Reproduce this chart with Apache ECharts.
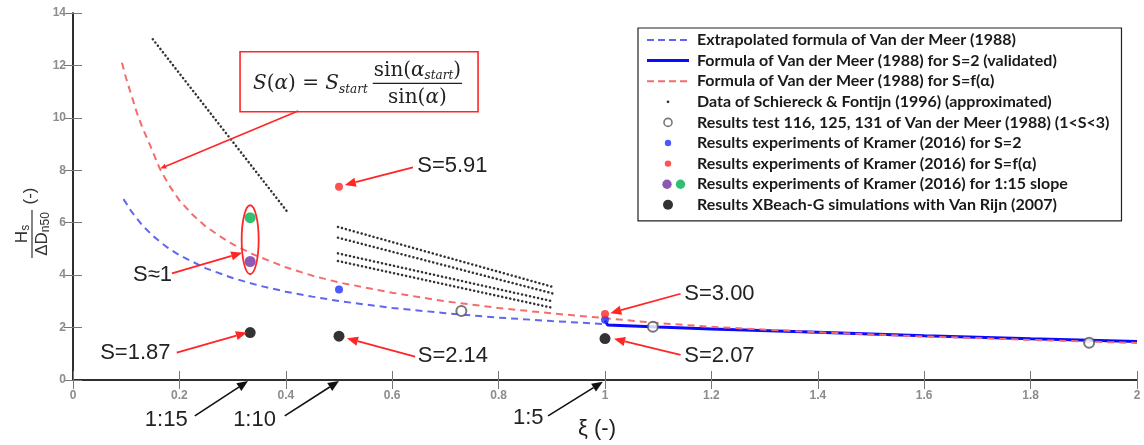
<!DOCTYPE html>
<html>
<head>
<meta charset="utf-8">
<script src="https://cdn.jsdelivr.net/npm/echarts@6.0.0/dist/echarts.min.js"></script>
<style>
  html, body { margin: 0; padding: 0; background: #fff; }
  #chart { width: 1144px; height: 445px; }
</style>
</head>
<body>
<div id="chart"></div>
<script>
// axis ticks
const xTicks = [0, 0.2, 0.4, 0.6, 0.8, 1, 1.2, 1.4, 1.6, 1.8, 2];
const yTicks = [0, 2, 4, 6, 8, 10, 12, 14];

const legendNames = [
  'Extrapolated formula of Van der Meer (1988)',
  'Formula of Van der Meer (1988) for S=2 (validated)',
  'Formula of Van der Meer (1988) for S=f(α)',
  'Data of Schiereck & Fontijn (1996) (approximated)',
  'Results test 116, 125, 131 of Van der Meer (1988) (1<S<3)',
  'Results experiments of Kramer (2016) for S=2',
  'Results experiments of Kramer (2016) for S=f(α)',
  'Results experiments of Kramer (2016) for 1:15 slope',
  'Results XBeach-G simulations with Van Rijn (2007)'
];

// [ξ, Hs/ΔDn50]
const vdmExtrapolated = [[0.095, 6.9], [0.11, 6.42], [0.13, 5.91], [0.15, 5.5], [0.175, 5.09], [0.2, 4.76],
  [0.25, 4.26], [0.3, 3.89], [0.35, 3.6], [0.4, 3.37], [0.45, 3.18], [0.5, 3.01], [0.6, 2.75], [0.7, 2.55],
  [0.8, 2.38], [0.9, 2.25], [1.0, 2.13]];
const vdmS2 = [[1.0, 2.27], [1.005, 2.1], [1.1, 2.02], [1.2, 1.95], [1.4, 1.82], [1.6, 1.69], [1.8, 1.57], [2.0, 1.47]];
const vdmSalpha = [[0.092, 12.1], [0.1, 11.5], [0.11, 10.85], [0.12, 10.2], [0.13, 9.65], [0.145, 8.95],
  [0.163, 8.07], [0.18, 7.45], [0.2, 6.85], [0.225, 6.3], [0.25, 5.85], [0.275, 5.5], [0.3, 5.18], [0.34, 4.78],
  [0.4, 4.3], [0.45, 3.98], [0.5, 3.72], [0.6, 3.33], [0.7, 3.0], [0.8, 2.75], [0.9, 2.54], [1.0, 2.36],
  [1.1, 2.17], [1.2, 2.03], [1.4, 1.82], [1.6, 1.66], [1.8, 1.53], [2.0, 1.41]];
// Schiereck & Fontijn: one steep line and four lines between ξ=0.5 and 0.9
const schiereck = [
  [[0.15, 13.0], [0.402, 6.44]],
  [[0.498, 5.84], [0.902, 3.55]],
  [[0.498, 5.43], [0.902, 3.3]],
  [[0.498, 4.83], [0.902, 3.0]],
  [[0.498, 4.54], [0.902, 2.75]]
];
const vdmTests = [[0.73, 2.63], [1.09, 2.03], [1.91, 1.42]];
const kramerS2 = [[0.5, 3.45], [1.0, 2.3]];
const kramerSalpha = [[0.5, 7.37], [1.0, 2.52]];
const kramer115Purple = [[0.333, 4.52]];
const kramer115Green = [[0.333, 6.19]];
const xbeach = [[0.333, 1.81], [0.5, 1.67], [1.0, 1.58]];

// annotations: label left-middle point, arrow tail, arrow tip (data coords)
const redNotes = [
  { text: 'S=5.91', at: [0.647, 8.15], from: [0.639, 8.11], to: [0.511, 7.44] },
  { text: 'S≈1', at: [0.113, 4.0], from: [0.186, 4.07], to: [0.318, 4.85] },
  { text: 'S=1.87', at: [0.051, 1.04], from: [0.195, 1.04], to: [0.327, 1.81] },
  { text: 'S=2.14', at: [0.648, 0.93], from: [0.643, 0.89], to: [0.515, 1.59] },
  { text: 'S=3.00', at: [1.149, 3.29], from: [1.142, 3.29], to: [1.010, 2.55] },
  { text: 'S=2.07', at: [1.149, 0.9], from: [1.142, 0.96], to: [1.017, 1.57] }
];
const slopeNotes = [
  { text: '1:15', at: [0.135, -1.52], from: [0.229, -1.37], to: [0.329, -0.04] },
  { text: '1:10', at: [0.301, -1.52], from: [0.398, -1.37], to: [0.5, -0.04] },
  { text: '1:5', at: [0.827, -1.44], from: [0.893, -1.37], to: [0.996, -0.07] }
];

const BLUE_D = '#5f66f0';
const BLUE = '#0a0aff';
const RED_D = '#f46c6c';
const RED = '#ff2626';

function svgIcon(inner) {
  return 'image://data:image/svg+xml;charset=utf-8,' + encodeURIComponent(
    '<svg xmlns="http://www.w3.org/2000/svg" width="45" height="16" viewBox="0 0 45 16">' + inner + '</svg>');
}
const legendIcons = [
  svgIcon('<line x1="0" y1="8" x2="42" y2="8" stroke="' + BLUE_D + '" stroke-width="2" stroke-dasharray="7,4"/>'),
  svgIcon('<line x1="0" y1="8" x2="42" y2="8" stroke="' + BLUE + '" stroke-width="3"/>'),
  svgIcon('<line x1="0" y1="8" x2="42" y2="8" stroke="' + RED_D + '" stroke-width="2" stroke-dasharray="7,4"/>'),
  svgIcon('<circle cx="21" cy="8" r="1.4" fill="#333"/>'),
  svgIcon('<circle cx="21" cy="8" r="4" fill="none" stroke="#555" stroke-width="1.6"/>'),
  svgIcon('<circle cx="21" cy="8" r="3.2" fill="#1f2fff"/>'),
  svgIcon('<circle cx="21" cy="8" r="3.2" fill="' + RED + '"/>'),
  svgIcon('<circle cx="20" cy="8" r="4.7" fill="#7030a0"/><circle cx="33.5" cy="8" r="4.7" fill="#00b050"/>'),
  svgIcon('<circle cx="21" cy="8" r="5" fill="#000"/>')
];

const chart = echarts.init(document.getElementById('chart'));

const dotted = { color: '#333', width: 2.5, type: [0.1, 4], cap: 'round' };
const series = [
  { name: legendNames[0], type: 'line', data: vdmExtrapolated, symbol: 'none',
    lineStyle: { color: BLUE_D, width: 2, type: [7, 5] }, z: 3 },
  { name: legendNames[1], type: 'line', data: vdmS2, symbol: 'none',
    lineStyle: { color: BLUE, width: 3 }, z: 4 },
  { name: legendNames[2], type: 'line', data: vdmSalpha, symbol: 'none',
    lineStyle: { color: RED_D, width: 2, type: [7, 5] }, z: 5 }
];
schiereck.forEach(seg => series.push({
  name: legendNames[3], type: 'line', data: seg, symbol: 'none', lineStyle: dotted, z: 3
}));
series.push(
  { name: legendNames[4], type: 'scatter', data: vdmTests, symbol: 'emptyCircle', symbolSize: 10,
    itemStyle: { color: '#555', borderWidth: 1.6 }, z: 6 },
  { name: legendNames[5], type: 'scatter', data: kramerS2, symbolSize: 8, itemStyle: { color: '#1f2fff' }, z: 6 },
  { name: legendNames[6], type: 'scatter', data: kramerSalpha, symbolSize: 8, itemStyle: { color: RED }, z: 6 },
  { name: legendNames[7], type: 'scatter', data: kramer115Purple, symbolSize: 11, itemStyle: { color: '#7030a0' }, z: 6 },
  { name: legendNames[7], type: 'scatter', data: kramer115Green, symbolSize: 11, itemStyle: { color: '#00b050' }, z: 6 },
  { name: legendNames[8], type: 'scatter', data: xbeach, symbolSize: 11, itemStyle: { color: '#000' }, z: 6 }
);

const tickLabel = { fontSize: 12, color: '#8c8c8c', fontWeight: 'bold', fontFamily: 'Liberation Sans' };
const axisLine = { show: true, lineStyle: { color: '#222', width: 1.5 } };
const axisTick = { show: true, inside: true, length: 9, lineStyle: { color: '#777', width: 1 } };
const xStep = xTicks[1] - xTicks[0];
const yStep = yTicks[1] - yTicks[0];

const option = {
  backgroundColor: '#fff',
  animation: false,
  grid: { left: 73, right: 7, top: 13, bottom: 54 },
  xAxis: [
    { type: 'value', min: xTicks[0], max: xTicks[xTicks.length - 1], interval: xStep,
      axisLine, axisTick, splitLine: { show: false },
      axisLabel: Object.assign({ margin: 10 }, tickLabel),
      name: 'ξ (-)', nameLocation: 'middle', nameGap: 38,
      nameTextStyle: { fontSize: 22, color: '#222', fontFamily: 'Liberation Sans', padding: [0, 16, 0, 0] } },
    { type: 'value', position: 'top', min: xTicks[0], max: xTicks[xTicks.length - 1], interval: xStep,
      axisLine, axisTick, axisLabel: { show: false }, splitLine: { show: false } }
  ],
  yAxis: [
    { type: 'value', min: yTicks[0], max: yTicks[yTicks.length - 1], interval: yStep,
      axisLine, axisTick, splitLine: { show: false },
      axisLabel: Object.assign({ margin: 7 }, tickLabel) },
    { type: 'value', position: 'right', min: yTicks[0], max: yTicks[yTicks.length - 1], interval: yStep,
      axisLine, axisTick, axisLabel: { show: false }, splitLine: { show: false } }
  ],
  legend: {
    orient: 'vertical', left: 638, top: 28,
    padding: [4, 12, 8, 9],
    backgroundColor: '#fff', borderColor: '#222', borderWidth: 1.2,
    itemWidth: 45, itemHeight: 16, itemGap: 4.6,
    selectedMode: false,
    textStyle: { fontSize: 16, fontWeight: 'bold', fontFamily: 'Lato', color: '#1a1a1a', lineHeight: 16 },
    data: legendNames.map((n, i) => ({ name: n, icon: legendIcons[i] }))
  },
  series
};
chart.setOption(option);

// ---- annotations drawn on top of the grid ----
const ctx = document.createElement('canvas').getContext('2d');
function tw(t, font) { ctx.font = font; return ctx.measureText(t).width; }
function txt(t, x, y, font, fill, align) {
  return { type: 'text', x, y, silent: true, z: 100,
    style: { text: t, font, fill: fill || '#222', textAlign: align || 'left', textVerticalAlign: 'middle',
      align: align || 'left', verticalAlign: 'middle' } };
}
// lay out several text pieces side by side (sub/superscripts via dy)
function runs(pieces, x, y, align, fill) {
  const ws = pieces.map(p => tw(p.t, p.font));
  const total = ws.reduce((a, b) => a + b, 0);
  let cx = align === 'center' ? x - total / 2 : x;
  const out = pieces.map((p, i) => {
    const el = txt(p.t, cx, y + (p.dy || 0), p.font, fill);
    cx += ws[i];
    return el;
  });
  out.width = total;
  return out;
}
function arrow(a, b, color, width, head) {
  const dx = b[0] - a[0], dy = b[1] - a[1], len = Math.hypot(dx, dy);
  const ux = dx / len, uy = dy / len;
  const bx = b[0] - ux * head, by = b[1] - uy * head, hw = head * 0.42;
  return [
    { type: 'line', silent: true, z: 100, shape: { x1: a[0], y1: a[1], x2: bx, y2: by },
      style: { stroke: color, lineWidth: width } },
    { type: 'polygon', silent: true, z: 100,
      shape: { points: [[b[0], b[1]], [bx - uy * hw, by + ux * hw], [bx + uy * hw, by - ux * hw]] },
      style: { fill: color } }
  ];
}

function drawNotes() {
  const px = p => chart.convertToPixel({ gridIndex: 0 }, p);
  const els = [];
  const noteFont = '22px "Liberation Sans"';

  redNotes.forEach(n => {
    const p = px(n.at);
    els.push(txt(n.text, p[0], p[1], noteFont));
    els.push(...arrow(px(n.from), px(n.to), RED, 1.8, 11));
  });
  slopeNotes.forEach(n => {
    const p = px(n.at);
    els.push(txt(n.text, p[0], p[1], noteFont));
    els.push(...arrow(px(n.from), px(n.to), '#111', 1.6, 11));
  });

  // ellipse around the 1:15 slope results
  const ec = px([0.333, 5.35]);
  els.push({ type: 'ellipse', silent: true, z: 100, shape: { cx: ec[0], cy: ec[1], rx: 8.5, ry: 34.5 },
    style: { fill: 'none', stroke: RED, lineWidth: 1.8 } });

  // formula box
  const b = px([0.314, 12.52]);
  const bw = 238, bh = 60;
  els.push({ type: 'rect', silent: true, z: 100, shape: { x: b[0], y: b[1], width: bw, height: bh },
    style: { fill: '#fff', stroke: RED, lineWidth: 1.6 } });
  const it = 'italic 20px "DejaVu Serif"', up = '20px "DejaVu Serif"', sub = 'italic 12px "DejaVu Serif"';
  const main = runs([
    { t: 'S', font: it }, { t: '(', font: up }, { t: 'α', font: it }, { t: ')', font: up },
    { t: ' = ', font: up }, { t: 'S', font: it }, { t: 'start', font: sub, dy: 6 }
  ], b[0] + 13, b[1] + 32, 'left');
  els.push(...main);
  const numPieces = [{ t: 'sin(', font: up }, { t: 'α', font: it }, { t: 'start', font: sub, dy: 5 }, { t: ')', font: up }];
  const numW = numPieces.reduce((s, p) => s + tw(p.t, p.font), 0);
  const fx = b[0] + 13 + main.width + 6 + numW / 2;
  els.push(...runs(numPieces, fx, b[1] + 19, 'center'));
  els.push({ type: 'line', silent: true, z: 100,
    shape: { x1: fx - numW / 2 - 1, y1: b[1] + 31.5, x2: fx + numW / 2 + 1, y2: b[1] + 31.5 },
    style: { stroke: '#222', lineWidth: 1.2 } });
  els.push(...runs([{ t: 'sin(', font: up }, { t: 'α', font: it }, { t: ')', font: up }], fx, b[1] + 46, 'center'));
  // connector from the box to the S=f(α) curve
  els.push(...arrow(px([0.423, 10.26]), px([0.164, 8.07]), RED, 1.6, 6));

  // y axis title: Hs / ΔDn50 (-), rotated
  const yt = [];
  const f16 = '17px "Liberation Sans"', f11 = '12px "Liberation Sans"';
  yt.push(...runs([{ t: 'H', font: f16 }, { t: 's', font: f11, dy: 4 }], 0, -10, 'center', '#333'));
  yt.push({ type: 'line', silent: true, shape: { x1: -24, y1: 0, x2: 24, y2: 0 }, style: { stroke: '#333', lineWidth: 1.2 } });
  yt.push(...runs([{ t: 'ΔD', font: f16 }, { t: 'n50', font: f11, dy: 4 }], 0, 10, 'center', '#333'));
  yt.push(txt('(-)', 38, -2, f16, '#333', 'center'));
  els.push({ type: 'group', x: 32, y: 234, rotation: Math.PI / 2, z: 100, children: yt });

  chart.setOption({ graphic: { elements: els } });
}
drawNotes();
</script>
</body>
</html>
